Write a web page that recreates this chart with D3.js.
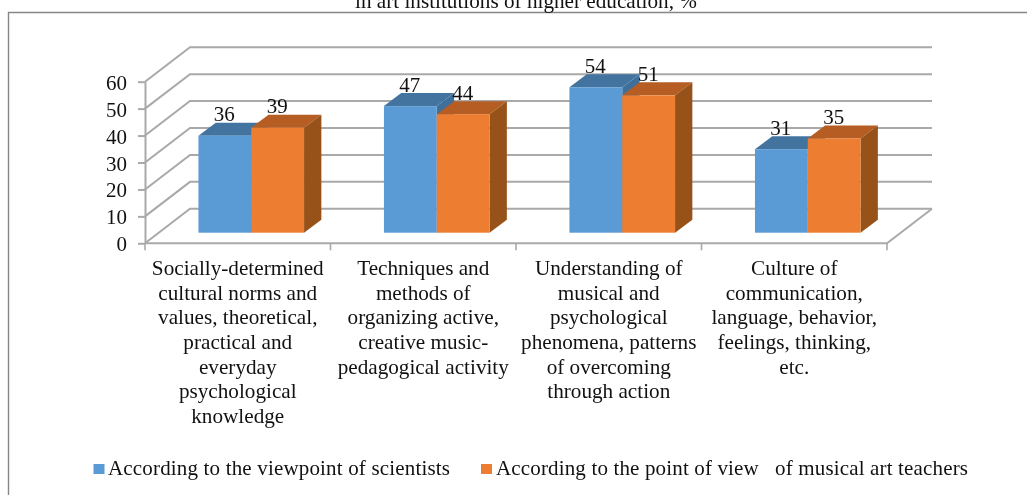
<!DOCTYPE html>
<html><head><meta charset="utf-8">
<script src="https://cdnjs.cloudflare.com/ajax/libs/d3/7.8.5/d3.min.js"></script>
<style>
html,body{margin:0;padding:0;background:#fff;overflow:hidden}
svg{display:block;filter:blur(0.35px)}
text{font-family:"Liberation Serif",serif;fill:#111;white-space:pre}
</style></head><body>
<svg id="c" width="1027" height="495"></svg>
<script>
const categories=[
 ["Socially-determined","cultural norms and","values, theoretical,","practical and","everyday","psychological","knowledge"],
 ["Techniques and","methods of","organizing active,","creative music-","pedagogical activity"],
 ["Understanding of","musical and","psychological","phenomena, patterns","of overcoming","through action"],
 ["Culture of","communication,","language, behavior,","feelings, thinking,","etc."]
];
const scientists=[36,47,54,31];
const teachers=[39,44,51,35];
const seriesNames=["According to the viewpoint of scientists","According to the point of view   of musical art teachers"];
const yTicks=[0,10,20,30,40,50,60];
const titleText="in art institutions of higher education, %";

const svg=d3.select("#c");
const idx=d3.range(categories.length);
const x=d3.scaleBand().domain(idx).range([145,887]).paddingInner(0).paddingOuter(0);
const y=d3.scaleLinear().domain([0,60]).range([243.3,81.7]);
const wall={dx:45,dy:-34.5}, inset={dx:13.5,dy:-10.6}, depth={dx:17.3,dy:-13};
const barW=52.8;
const grid="#a9a9a9";

// frame + clipped title
svg.append("path").attr("d","M8.5,495V12.5H1027").attr("fill","none").attr("stroke","#868686").attr("stroke-width",1.4);
svg.append("text").attr("x",526).attr("y",7.5).attr("text-anchor","middle").attr("font-size",21.2).text(titleText);

// walls and gridlines
const line=d3.line();
svg.append("g").selectAll("path").data(yTicks).join("path")
 .attr("fill","none").attr("stroke",grid).attr("stroke-width",2)
 .attr("d",t=>line([[145,y(t)],[145+wall.dx,y(t)+wall.dy],[887+wall.dx,y(t)+wall.dy]]));
// floor
svg.append("path").attr("fill","none").attr("stroke",grid).attr("stroke-width",2)
 .attr("d",line([[145,y(0)],[887,y(0)],[887+wall.dx,y(0)+wall.dy]]));

// y axis
const ya=svg.append("g").attr("transform","translate(145,0)")
 .call(d3.axisLeft(y).tickValues(yTicks).tickSize(7).tickPadding(11).tickSizeOuter(0));
ya.selectAll("path,line").attr("stroke",grid).attr("stroke-width",2);
ya.selectAll("text").attr("font-size",21).attr("font-family",'"Liberation Serif",serif').attr("fill","#111").attr("dy","7.5");

// x ticks
svg.append("g").selectAll("line").data(d3.range(categories.length+1)).join("line")
 .attr("x1",i=>145+i*x.bandwidth()).attr("x2",i=>145+i*x.bandwidth())
 .attr("y1",y(0)).attr("y2",y(0)+7).attr("stroke",grid).attr("stroke-width",1.6);

// bars
const bands=[
 {vals:scientists,front:"#5b9bd5",top:"#4374a0",side:"#3f6f9b",off:-barW},
 {vals:teachers,front:"#ed7d31",top:"#b55d22",side:"#975219",off:0}
];
const poly=p=>"M"+p.map(q=>q.join(",")).join("L")+"Z";
bands.forEach(b=>{
 const g=svg.append("g");
 idx.forEach(i=>{
  const x0=x(i)+x.bandwidth()/2+inset.dx+b.off, x1=x0+barW;
  const yb=y(0)+inset.dy, yt=y(b.vals[i])+inset.dy+0;
  g.append("path").attr("fill",b.top).attr("d",poly([[x0,yt],[x1,yt],[x1+depth.dx,yt+depth.dy],[x0+depth.dx,yt+depth.dy]]));
  g.append("path").attr("fill",b.side).attr("d",poly([[x1,yt],[x1+depth.dx,yt+depth.dy],[x1+depth.dx,yb+depth.dy],[x1,yb]]));
  g.append("rect").attr("x",x0).attr("y",yt).attr("width",barW).attr("height",yb-yt).attr("fill",b.front);
 });
});
// data labels
bands.forEach(b=>{
 svg.append("g").selectAll("text").data(idx).join("text")
  .attr("x",i=>x(i)+x.bandwidth()/2+inset.dx+b.off+barW/2-0.5)
  .attr("y",i=>y(b.vals[i])+inset.dy-14.6)
  .attr("text-anchor","middle").attr("font-size",21).text(i=>b.vals[i]);
});

// category labels
idx.forEach(i=>{
 svg.append("g").selectAll("text").data(categories[i]).join("text")
  .attr("x",x(i)+x.bandwidth()/2).attr("y",(d,k)=>275+k*24.65)
  .attr("text-anchor","middle").attr("font-size",21.2).text(d=>d);
});

// legend
const legend=[{sx:93.5,tx:108,fill:"#5b9bd5",w:342},{sx:481,tx:496,fill:"#ed7d31",w:472}];
legend.forEach((l,i)=>{
 svg.append("rect").attr("x",l.sx).attr("y",464).attr("width",11).attr("height",10).attr("fill",l.fill);
 svg.append("text").attr("x",l.tx).attr("y",474.5).attr("font-size",21)
  .attr("textLength",l.w).attr("lengthAdjust","spacing").text(seriesNames[i]);
});
</script></body></html>
